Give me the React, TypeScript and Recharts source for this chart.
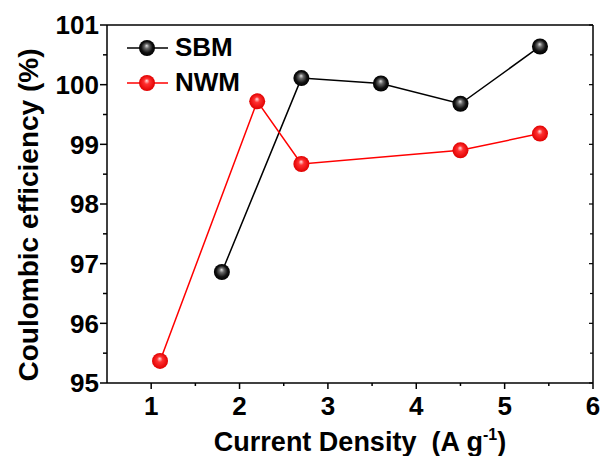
import React from "react";
import { LineChart, Line, XAxis, YAxis, Legend, Label } from "recharts";

// Coulombic efficiency vs current density
const sbmX = [1.8, 2.7, 3.6, 4.5, 5.4];
const sbmY = [96.86, 100.11, 100.02, 99.68, 100.64];
const nwmX = [1.1, 2.2, 2.7, 4.5, 5.4];
const nwmY = [95.37, 99.72, 98.67, 98.9, 99.18];
const xTicks = [1, 1.5, 2, 2.5, 3, 3.5, 4, 4.5, 5, 5.5, 6];
const yTicks = [95, 95.5, 96, 96.5, 97, 97.5, 98, 98.5, 99, 99.5, 100, 100.5, 101];

const sbmData = sbmX.map((x, i) => ({ x, y: sbmY[i] }));
const nwmData = nwmX.map((x, i) => ({ x, y: nwmY[i] }));

const font = "'Liberation Sans', Arial, sans-serif";

const BottomTick = (props: any) => {
    const { x, y, payload } = props;
    const major = Number.isInteger(payload.value);
    return (
        <g>
            <line x1={x} x2={x} y1={y} y2={y + (major ? 6 : 3)} stroke="#000" strokeWidth={1.5} />
            {major && (
                <text x={x} y={y + 14} dy="0.71em" textAnchor="middle" fontSize={26} fontWeight="bold" fontFamily={font} fill="#000">
                    {payload.value}
                </text>
            )}
        </g>
    );
};

const TopTick = (props: any) => {
    const { x, y, payload } = props;
    const major = Number.isInteger(payload.value);
    return <line x1={x} x2={x} y1={y} y2={y - (major ? 3 : 2)} stroke="#000" strokeWidth={1.2} />;
};

const LeftTick = (props: any) => {
    const { x, y, payload } = props;
    const major = Number.isInteger(payload.value);
    return (
        <g>
            <line x1={x} x2={x - (major ? 7 : 4)} y1={y} y2={y} stroke="#000" strokeWidth={1.5} />
            {major && (
                <text x={x - 8} y={y} dy="0.36em" textAnchor="end" fontSize={26} fontWeight="bold" fontFamily={font} fill="#000">
                    {payload.value}
                </text>
            )}
        </g>
    );
};

const RightTick = (props: any) => {
    const { x, y, payload } = props;
    const major = Number.isInteger(payload.value);
    return <line x1={x} x2={x - (major ? 4 : 3)} y1={y} y2={y} stroke="#000" strokeWidth={1.2} />;
};

const Ball = (fill: string) => (props: any) => {
    const { cx, cy, index } = props;
    if (cx == null || cy == null) return <g key={index} />;
    return <circle key={index} cx={cx} cy={cy} r={8} fill={fill} />;
};

const legendItems = [
    { name: "SBM", color: "#000", fill: "url(#ballK)" },
    { name: "NWM", color: "#ff0000", fill: "url(#ballR)" },
];

const LegendBox = () => (
    <div>
        {legendItems.map((it) => (
            <div key={it.name} style={{ display: "flex", alignItems: "center", height: 35 }}>
                <svg width={48} height={20}>
                    <line x1={0} x2={41} y1={10} y2={10} stroke={it.color} strokeWidth={1.5} />
                    <circle cx={20} cy={10} r={8} fill={it.fill} />
                </svg>
                <span style={{ fontFamily: font, fontWeight: "bold", fontSize: 26, color: "#000", lineHeight: "35px" }}>
                    {it.name}
                </span>
            </div>
        ))}
    </div>
);

export default function App() {
    return (
        <div style={{ position: "absolute", left: 0, top: 0, background: "#fff" }}>
            <LineChart width={603} height={456} margin={{ top: 20, right: 0, bottom: 23, left: 0 }}>
                <defs>
                    <radialGradient id="ballK" cx="50%" cy="50%" r="50%" fx="48%" fy="35%">
                        <stop offset="0%" stopColor="#e0e0e0" />
                        <stop offset="30%" stopColor="#666" />
                        <stop offset="70%" stopColor="#111" />
                        <stop offset="100%" stopColor="#000" />
                    </radialGradient>
                    <radialGradient id="ballR" cx="50%" cy="50%" r="50%" fx="48%" fy="35%">
                        <stop offset="0%" stopColor="#ffe0e0" />
                        <stop offset="35%" stopColor="#ff3030" />
                        <stop offset="100%" stopColor="#e00000" />
                    </radialGradient>
                </defs>
                <XAxis
                    xAxisId="b"
                    dataKey="x"
                    type="number"
                    domain={[0.5, 6]}
                    ticks={xTicks}
                    interval={0}
                    allowDataOverflow
                    height={50}
                    tickSize={0}
                    tickMargin={0}
                    tickLine={false}
                    axisLine={{ stroke: "#000", strokeWidth: 1.5 }}
                    tick={<BottomTick />}
                >
                    <Label
                        content={() => (
                            <text x={360} y={451} textAnchor="middle" fontSize={27} fontWeight="bold" fontFamily={font} fill="#000">
                                Current Density{"\u00a0\u00a0"}(A g
                                <tspan dy={-11} fontSize={16}>-1</tspan>
                                <tspan dy={11}>)</tspan>
                            </text>
                        )}
                    />
                </XAxis>
                <XAxis
                    xAxisId="t"
                    orientation="top"
                    type="number"
                    domain={[0.5, 6]}
                    ticks={xTicks}
                    interval={0}
                    allowDataOverflow
                    height={5}
                    tickSize={0}
                    tickMargin={0}
                    tickLine={false}
                    axisLine={{ stroke: "#000", strokeWidth: 1.5 }}
                    tick={<TopTick />}
                />
                <YAxis
                    yAxisId="l"
                    type="number"
                    domain={[95, 101]}
                    ticks={yTicks}
                    interval={0}
                    allowDataOverflow
                    width={107}
                    tickSize={0}
                    tickMargin={0}
                    tickLine={false}
                    axisLine={{ stroke: "#000", strokeWidth: 1.5 }}
                    tick={<LeftTick />}
                >
                    <Label
                        content={() => (
                            <text transform="translate(38,215) rotate(-90)" textAnchor="middle" fontSize={28} fontWeight="bold" fontFamily={font} fill="#000">
                                Coulombic efficiency (%)
                            </text>
                        )}
                    />
                </YAxis>
                <YAxis
                    yAxisId="r"
                    orientation="right"
                    type="number"
                    domain={[95, 101]}
                    ticks={yTicks}
                    interval={0}
                    allowDataOverflow
                    width={10}
                    tickSize={0}
                    tickMargin={0}
                    tickLine={false}
                    axisLine={{ stroke: "#000", strokeWidth: 1.5 }}
                    tick={<RightTick />}
                />
                <Legend
                    layout="horizontal"
                    verticalAlign="middle"
                    align="center"
                    wrapperStyle={{ top: 30, left: 127, width: "auto" }}
                    content={<LegendBox />}
                />
                <Line
                    xAxisId="b"
                    yAxisId="l"
                    data={sbmData}
                    dataKey="y"
                    name="SBM"
                    stroke="#000"
                    strokeWidth={1.5}
                    dot={Ball("url(#ballK)")}
                    activeDot={false}
                    isAnimationActive={false}
                />
                <Line
                    xAxisId="b"
                    yAxisId="l"
                    data={nwmData}
                    dataKey="y"
                    name="NWM"
                    stroke="#ff0000"
                    strokeWidth={1.5}
                    dot={Ball("url(#ballR)")}
                    activeDot={false}
                    isAnimationActive={false}
                />
            </LineChart>
        </div>
    );
}
